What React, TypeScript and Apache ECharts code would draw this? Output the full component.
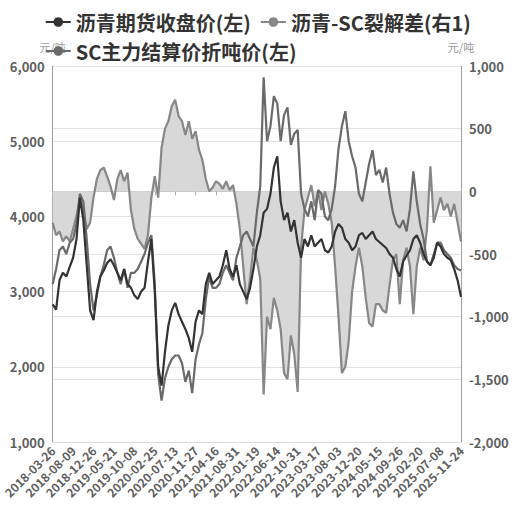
import React, { useEffect, useRef } from "react";
import * as echarts from "echarts";

const dates = [
  "2018-03-26","2018-04-18","2018-05-10","2018-06-01","2018-06-25","2018-07-17",
  "2018-08-09","2018-09-03","2018-09-26","2018-10-22","2018-11-13","2018-12-05",
  "2018-12-26","2019-01-18","2019-02-14","2019-03-08","2019-04-01","2019-04-25",
  "2019-05-21","2019-06-13","2019-07-05","2019-07-29","2019-08-20","2019-09-11",
  "2019-10-08","2019-10-31","2019-11-22","2019-12-16","2020-01-08","2020-02-03",
  "2020-02-25","2020-03-18","2020-04-09","2020-05-06","2020-05-28","2020-06-19",
  "2020-07-13","2020-08-04","2020-08-26","2020-09-17","2020-10-14","2020-11-05",
  "2020-11-27","2020-12-21","2021-01-13","2021-02-04","2021-03-03","2021-03-25",
  "2021-04-16","2021-05-12","2021-06-03","2021-06-25","2021-07-19","2021-08-10",
  "2021-08-31","2021-09-23","2021-10-20","2021-11-11","2021-12-03","2021-12-27",
  "2022-01-19","2022-02-15","2022-03-09","2022-04-01","2022-04-26","2022-05-20",
  "2022-06-14","2022-07-06","2022-07-28","2022-08-19","2022-09-13","2022-10-12",
  "2022-10-31","2022-11-22","2022-12-14","2023-01-06","2023-02-03","2023-02-23",
  "2023-03-17","2023-04-10","2023-05-05","2023-05-29","2023-06-20","2023-07-12",
  "2023-08-03","2023-08-25","2023-09-18","2023-10-17","2023-11-07","2023-11-29",
  "2023-12-20","2024-01-12","2024-02-06","2024-03-06","2024-03-28","2024-04-23",
  "2024-05-15","2024-06-05","2024-06-27","2024-07-19","2024-08-12","2024-09-03",
  "2024-09-26","2024-10-22","2024-11-13","2024-12-05","2024-12-27","2025-01-22",
  "2025-02-20","2025-03-14","2025-04-08","2025-04-30","2025-05-26","2025-06-17",
  "2025-07-08","2025-07-30","2025-08-21","2025-09-12","2025-10-13","2025-11-03",
  "2025-11-24"
];

// 沥青期货收盘价 (元/吨, 左轴)
const buClose = [
  2830, 2760, 3150, 3250, 3200, 3330,
  3450, 3700, 4250, 3950, 3350, 2750,
  2620, 3000, 3200, 3280, 3380, 3430,
  3350, 3250, 3150, 3300, 3100, 3050,
  2950, 2900, 3000, 3050, 3400, 3700,
  3000, 2000, 1750, 2200, 2550, 2750,
  2850, 2700, 2600, 2500, 2380, 2200,
  2600, 2750, 2700, 3100, 3250, 3100,
  3150, 3200, 3350, 3550, 3300, 3200,
  3350, 3100, 3000, 2900, 3050, 3300,
  3600, 3750, 4050, 4100, 4300, 4650,
  4800, 4200, 3950, 4050, 3800, 3950,
  3650, 3450, 3700, 3600, 3750, 3600,
  3650, 3700, 3550, 3520, 3600, 3800,
  3900, 3850, 3700, 3650, 3550, 3600,
  3750, 3780, 3700, 3750, 3800, 3700,
  3660, 3620, 3580, 3500, 3450, 3300,
  3200, 3400, 3480, 3550, 3700, 3750,
  3650, 3500, 3400, 3350, 3450, 3650,
  3600, 3500, 3450, 3420, 3300, 3150,
  2930
];

// 沥青-SC裂解差 (元/吨, 右轴)
const crackSpread = [
  -250, -350, -320, -400, -360, -400,
  -300, -200, -50, -150, -300, -250,
  -50, 100, 170, 190, 120, 40,
  -70, 100, 170, 80, 150, -150,
  -300, -380, -420, -460, -350, -50,
  120, -50, 350, 500, 560, 680,
  730, 600, 560, 450, 560, 420,
  480, 330, 250, 100, 0, 30,
  80, 60, 20, 80, 10, 50,
  -100, -300, -600, -900, -700, -450,
  -550, -700, -1620, -1000, -1100, -850,
  -950, -1100, -1450, -1500, -1150, -1300,
  -1600, -450, -150, -50, 50, -120,
  0, -150, 0, -100, -250, -600,
  -1000, -1450, -1400, -1200, -800, -600,
  -450, -600, -850, -1050, -1080, -900,
  -900, -950, -970, -750, -550, -500,
  -900, -550, -450, -600, -980, -600,
  -450, -550, -300, 200, -250, -150,
  -50, -150, -100, -200, -100, -250,
  -400
];

// SC主力结算价折吨价 (元/吨, 左轴)
const scPerTon = [
  3100, 3300, 3550, 3600, 3500, 3650,
  3700, 3900, 4300, 4200, 3700, 3100,
  2750, 2950, 3200, 3350, 3550, 3600,
  3450, 3250, 3100, 3300, 3050, 3250,
  3250, 3300, 3400, 3500, 3650, 3750,
  3100, 1900, 1550, 1850, 2000, 2100,
  2150, 2150, 2050, 1800, 1950, 1650,
  2100, 2300, 2450, 2900, 3200, 3050,
  3050, 3100, 3250, 3350, 3250, 3150,
  3450, 3600, 3750, 3800, 3700, 3600,
  4050, 4400, 5850, 5000, 5200, 5600,
  5500, 5000, 5350, 5450, 4950, 5100,
  5150, 4300, 4100, 4000, 4200, 3950,
  4350, 4300, 4000, 3950, 4100, 4400,
  4900, 5200, 5400, 5000, 4800, 4650,
  4300, 4200, 4450, 4700, 4880, 4550,
  4620, 4450, 4650, 4300, 4050, 3900,
  3850, 3950, 3800, 4100, 4600, 4200,
  3900, 3700, 3400, 3350, 3500, 3650,
  3650, 3550, 3500, 3450, 3350, 3300,
  3280
];

const leftTicks = { min: 1000, max: 6000, interval: 1000 };
const rightTicks = { min: -2000, max: 1000, interval: 500 };

const seriesNames = ["沥青期货收盘价(左)", "沥青-SC裂解差(右1)", "SC主力结算价折吨价(左)"];

const FONT = "'Noto Sans CJK SC', 'Noto Sans', sans-serif";
const fmt = (v: number) => v.toLocaleString("en-US");

export default function App() {
  const ref = useRef<HTMLDivElement>(null);
  useEffect(() => {
    if (!ref.current) return;
    const chart = echarts.init(ref.current, undefined, { renderer: "svg" });
    const xLabelStyle = { color: "#606060", fontSize: 12, fontWeight: "bold" as const, fontFamily: FONT };
    const yLabelStyle = { color: "#606060", fontSize: 13, fontWeight: "bold" as const, fontFamily: FONT };
    chart.setOption({
      animation: false,
      backgroundColor: "#ffffff",
      textStyle: { fontFamily: FONT },
      legend: {
        data: seriesNames,
        left: "center",
        top: 7,
        itemWidth: 25,
        itemHeight: 12,
        itemGap: 9,
        textStyle: { fontSize: 20, fontWeight: "bold", color: "#333333", fontFamily: FONT },
      },
      grid: { left: 50, right: 54, top: 66, bottom: 70, containLabel: false },
      xAxis: [
        {
          type: "category",
          data: dates,
          boundaryGap: false,
          axisLine: { show: true, onZero: false, lineStyle: { color: "#dcdcdc" } },
          axisTick: { show: false },
          axisLabel: { ...xLabelStyle, interval: 5, rotate: 45, margin: 6 },
          splitLine: { show: false },
        },
        {
          type: "category",
          data: dates,
          boundaryGap: false,
          position: "bottom",
          axisLine: { show: true, onZero: true, onZeroAxisIndex: 1, lineStyle: { color: "#c4c4c4" } },
          axisTick: { show: true, interval: 5, length: 4, lineStyle: { color: "#b0b0b0" } },
          axisLabel: { show: false },
          splitLine: { show: false },
        },
      ],
      yAxis: [
        {
          type: "value",
          ...leftTicks,
          position: "left",
          name: "元/吨",
          nameLocation: "end",
          nameGap: 14,
          nameTextStyle: { color: "#999999", fontSize: 11, fontFamily: FONT },
          axisLine: { show: true, lineStyle: { color: "#a0a0a0" } },
          axisTick: { show: false },
          axisLabel: { ...yLabelStyle, margin: 8, formatter: fmt },
          splitLine: { show: true, lineStyle: { color: "#e2e2e2" } },
        },
        {
          type: "value",
          ...rightTicks,
          position: "right",
          name: "元/吨",
          nameLocation: "end",
          nameGap: 14,
          nameTextStyle: { color: "#999999", fontSize: 11, fontFamily: FONT },
          axisLine: { show: true, lineStyle: { color: "#a0a0a0" } },
          axisTick: { show: false },
          axisLabel: { ...yLabelStyle, margin: 8, formatter: fmt },
          splitLine: { show: true, lineStyle: { color: "#e2e2e2" } },
        },
      ],
      series: [
        {
          name: seriesNames[0],
          type: "line",
          data: buClose,
          yAxisIndex: 0,
          showSymbol: false,
          symbol: "circle",
          z: 4,
          itemStyle: { color: "#333333" },
          lineStyle: { color: "#333333", width: 2.2 },
        },
        {
          name: seriesNames[1],
          type: "line",
          data: crackSpread,
          yAxisIndex: 1,
          showSymbol: false,
          symbol: "circle",
          z: 2,
          itemStyle: { color: "#878787" },
          lineStyle: { color: "#878787", width: 2.2 },
          areaStyle: { color: "#d8d8d8", opacity: 1 },
        },
        {
          name: seriesNames[2],
          type: "line",
          data: scPerTon,
          yAxisIndex: 0,
          showSymbol: false,
          symbol: "circle",
          z: 3,
          itemStyle: { color: "#6a6a6a" },
          lineStyle: { color: "#6a6a6a", width: 2.2 },
        },
      ],
    });
    return () => chart.dispose();
  }, []);
  return (
    <div
      ref={ref}
      style={{ position: "fixed", left: 0, top: 0, width: 515, height: 512, background: "#fff" }}
    />
  );
}
